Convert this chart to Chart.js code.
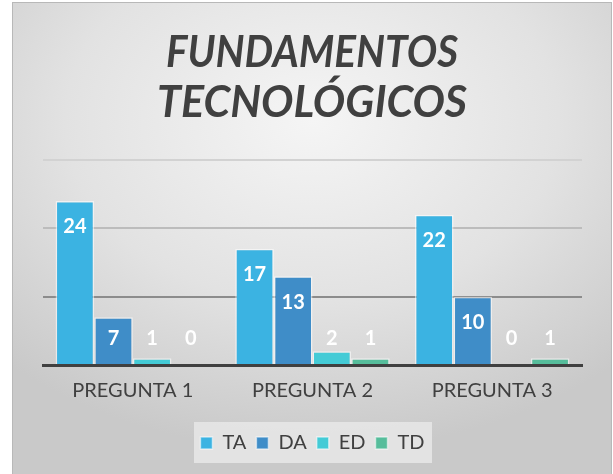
<!DOCTYPE html>
<html>
<head>
<meta charset="utf-8">
<script src="https://cdn.jsdelivr.net/npm/chart.js@4"></script>
<style>
  html, body { margin: 0; padding: 0; background: #fff; }
  #frame {
    position: absolute; left: 12px; top: 2px; width: 598px; height: 472px;
    border: 1px solid #b8b8b8; border-bottom: none;
    background: radial-gradient(ellipse 75% 70% at 50% 25%, #f5f5f5 0%, #e2e2e2 55%, #c9c9c9 100%);
  }
  #frame canvas { display: block; }
</style>
</head>
<body>
<div id="frame"><canvas id="barChart" width="598" height="472"></canvas></div>
<script>
const titleLines = ["FUNDAMENTOS", "TECNOLÓGICOS"];
const categories = ["PREGUNTA 1", "PREGUNTA 2", "PREGUNTA 3"];
const seriesNames = ["TA", "DA", "ED", "TD"];
const taValues = [24, 17, 22];
const daValues = [7, 13, 10];
const edValues = [1, 2, 0];
const tdValues = [0, 1, 1];
const colors = ["#3bb3e2", "#3f8dc8", "#44cbd6", "#56bd9b"];

// narrow bold italic title (no condensed font installed, so squeeze it)
const squeezedTitle = {
  id: "squeezedTitle",
  afterDraw(chart) {
    const ctx = chart.ctx;
    ctx.save();
    ctx.font = "italic bold 44px 'Lato', sans-serif";
    ctx.fillStyle = "#404040";
    ctx.textAlign = "center";
    ctx.textBaseline = "alphabetic";
    const widths = [292, 310];
    const cx = 299;
    [64, 114].forEach((y, i) => {
      const k = widths[i] / ctx.measureText(titleLines[i]).width;
      ctx.save();
      ctx.translate(cx, y);
      ctx.scale(k, 1);
      ctx.fillText(titleLines[i], 0, 0);
      ctx.restore();
    });
    ctx.restore();
  }
};

// white value labels, pushed up above short bars
const valueLabels = {
  id: "valueLabels",
  afterDatasetsDraw(chart) {
    const ctx = chart.ctx;
    const base = chart.scales.y.getPixelForValue(0);
    ctx.save();
    ctx.fillStyle = "#ffffff";
    ctx.font = "bold 20px 'Lato', sans-serif";
    ctx.textAlign = "center";
    ctx.textBaseline = "middle";
    chart.data.datasets.forEach((ds, i) => {
      chart.getDatasetMeta(i).data.forEach((bar, j) => {
        const y = Math.min(bar.y + 26, base - 26);
        ctx.fillText(String(ds.data[j]), bar.x, y);
      });
    });
    ctx.restore();
  }
};

// light panel behind the legend
const legendPanel = {
  id: "legendPanel",
  beforeDraw(chart) {
    const ctx = chart.ctx;
    ctx.save();
    ctx.fillStyle = "rgba(235,235,235,0.75)";
    ctx.fillRect(181, 419, 238, 41);
    ctx.restore();
  }
};

const CHART = document.getElementById("barChart");
let barChart = new Chart(CHART, {
  type: "bar",
  data: {
    labels: categories,
    datasets: [taValues, daValues, edValues, tdValues].map((d, i) => ({
      label: seriesNames[i],
      data: d,
      backgroundColor: colors[i],
      borderColor: "rgba(255,255,255,0.55)",
      borderWidth: 1.5,
      categoryPercentage: 0.86,
      barPercentage: 1.0,
    })),
  },
  options: {
    responsive: false,
    animation: false,
    layout: { padding: { left: 30, right: 29, top: 157, bottom: 12 } },
    plugins: {
      title: { display: false },
      legend: {
        position: "bottom",
        labels: {
          color: "#404040",
          font: { family: "'Lato', sans-serif", size: 20 },
          boxWidth: 12,
          boxHeight: 12,
          padding: 10,
        },
      },
      tooltip: { enabled: false },
    },
    scales: {
      x: {
        grid: { display: false },
        border: { color: "#404040", width: 3 },
        ticks: { color: "#404040", font: { family: "'Lato', sans-serif", size: 20 }, padding: 6 },
        afterFit: (scale) => { scale.height += 14; },
      },
      y: {
        min: 0,
        max: 30,
        ticks: { display: false, stepSize: 10 },
        border: { display: false },
        grid: {
          drawTicks: false,
          lineWidth: 2,
          color: (c) => {
            const v = c.tick.value;
            if (v === 10) return "#8c8c8c";
            if (v === 20) return "#bcbcbc";
            if (v === 30) return "#d2d2d2";
            return "rgba(0,0,0,0)";
          },
        },
      },
    },
  },
  plugins: [legendPanel, valueLabels, squeezedTitle],
});
</script>
</body>
</html>
